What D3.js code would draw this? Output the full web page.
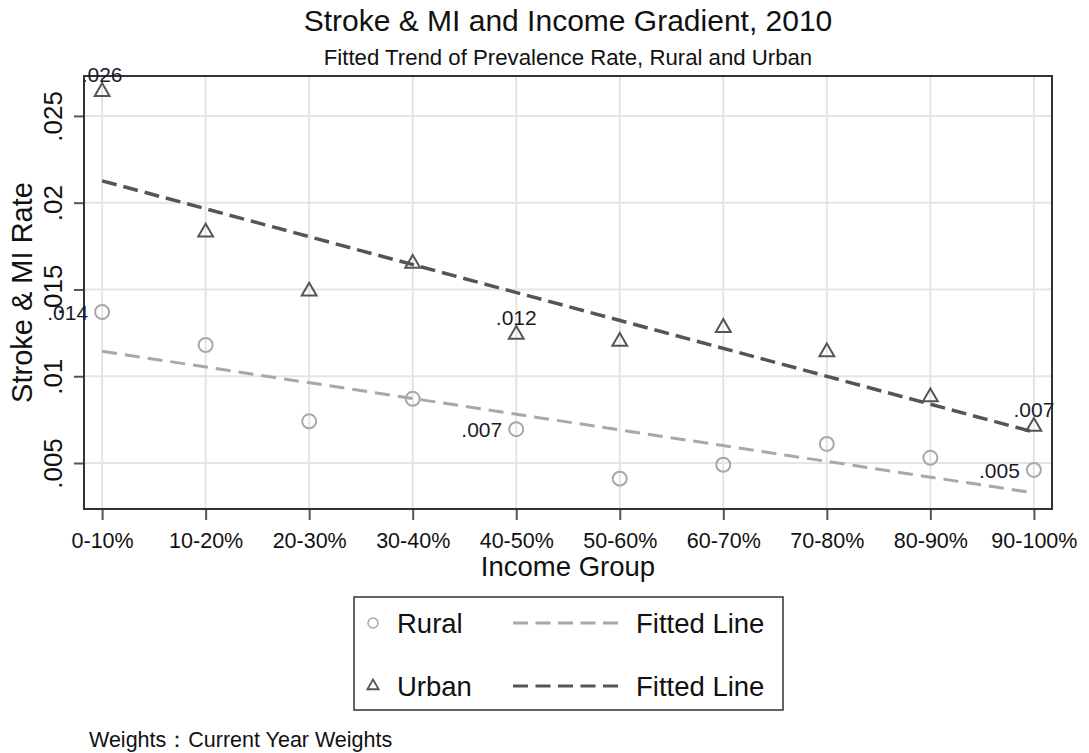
<!DOCTYPE html>
<html>
<head>
<meta charset="utf-8">
<script src="https://cdn.jsdelivr.net/npm/d3@7"></script>
<style>
  html, body { margin: 0; padding: 0; background: #fff; }
  svg { display: block; font-family: "Liberation Sans", Arial, sans-serif; }
</style>
</head>
<body>
<svg id="chart" width="1089" height="753"></svg>
<script>
// ---- data ----
const categories = ["0-10%", "10-20%", "20-30%", "30-40%", "40-50%", "50-60%", "60-70%", "70-80%", "80-90%", "90-100%"];
const urbanRate = [0.0264, 0.0183, 0.0149, 0.0165, 0.0124, 0.0120, 0.0128, 0.0114, 0.0088, 0.0071];
const ruralRate = [0.0137, 0.0118, 0.0074, 0.0087, 0.00695, 0.0041, 0.0049, 0.0061, 0.0053, 0.0046];
// fitted (linear) trend values at first and last income group
const urbanFit = [0.02126, 0.00678];
const ruralFit = [0.01144, 0.00328];
const labeledIdx = [0, 4, 9];
const yTicks = [0.005, 0.01, 0.015, 0.02, 0.025];
const yTickLabels = [".005", ".01", ".015", ".02", ".025"];
const yDomain = [0.00235, 0.0273];

const titleText = "Stroke & MI and Income Gradient, 2010";
const subtitleText = "Fitted Trend of Prevalence Rate, Rural and Urban";
const xTitle = "Income Group";
const yTitle = "Stroke & MI Rate";
const noteText = "Weights\uFF1ACurrent Year Weights";
const legendRows = [
  { name: "Rural", fit: "Fitted Line", kind: "rural" },
  { name: "Urban", fit: "Fitted Line", kind: "urban" }
];

// ---- layout ----
const plot = { left: 84, right: 1052, top: 76, bottom: 509 };
const urbanColor = "#555555";
const ruralColor = "#a8a8a8";
const gridColor = "#e4e4e4";

const svg = d3.select("#chart");
const x = d3.scalePoint().domain(categories).range([plot.left, plot.right]).padding(0.175);
const y = d3.scaleLinear().domain(yDomain).range([plot.bottom, plot.top]);

svg.append("rect").attr("x", 0).attr("y", 0).attr("width", 1089).attr("height", 753).attr("fill", "#fff");

// grid
const grid = svg.append("g");
grid.selectAll("line.h").data(yTicks).join("line")
  .attr("x1", plot.left).attr("x2", plot.right)
  .attr("y1", d => y(d)).attr("y2", d => y(d))
  .attr("stroke", gridColor).attr("stroke-width", 2);
grid.selectAll("line.v").data(categories).join("line")
  .attr("x1", d => x(d)).attr("x2", d => x(d))
  .attr("y1", plot.top).attr("y2", plot.bottom)
  .attr("stroke", gridColor).attr("stroke-width", 2);

// axes
const yAxis = d3.axisLeft(y).tickValues(yTicks).tickSize(10).tickFormat((d, i) => yTickLabels[i]);
const gy = svg.append("g").attr("transform", `translate(${plot.left},0)`).call(yAxis);
gy.select(".domain").remove();
gy.selectAll(".tick line").attr("stroke", "#555").attr("stroke-width", 2);
gy.selectAll(".tick text")
  .attr("x", null).attr("dy", null)
  .attr("transform", "translate(-22,0) rotate(-90)")
  .attr("text-anchor", "middle")
  .attr("fill", "#111")
  .style("font-size", "26px");

const xAxis = d3.axisBottom(x).tickSize(11).tickPadding(0);
const gx = svg.append("g").attr("transform", `translate(0,${plot.bottom})`).call(xAxis);
gx.select(".domain").remove();
gx.selectAll(".tick line").attr("stroke", "#555").attr("stroke-width", 2);
gx.selectAll(".tick text")
  .attr("y", 39).attr("dy", null)
  .attr("fill", "#111")
  .style("font-size", "21.5px");

// frame
svg.append("rect")
  .attr("x", plot.left).attr("y", plot.top)
  .attr("width", plot.right - plot.left).attr("height", plot.bottom - plot.top)
  .attr("fill", "none").attr("stroke", "#333").attr("stroke-width", 2);

// fitted lines
const lineGen = d3.line().x(d => d[0]).y(d => d[1]);
const first = categories[0], last = categories[categories.length - 1];
svg.append("path")
  .attr("d", lineGen([[x(first), y(ruralFit[0])], [x(last), y(ruralFit[1])]]))
  .attr("fill", "none").attr("stroke", ruralColor).attr("stroke-width", 3)
  .attr("stroke-dasharray", "15,8");
svg.append("path")
  .attr("d", lineGen([[x(first), y(urbanFit[0])], [x(last), y(urbanFit[1])]]))
  .attr("fill", "none").attr("stroke", urbanColor).attr("stroke-width", 3.5)
  .attr("stroke-dasharray", "15,7");

// markers
svg.append("g").selectAll("circle").data(ruralRate).join("circle")
  .attr("cx", (d, i) => x(categories[i])).attr("cy", d => y(d))
  .attr("r", 7).attr("fill", "none").attr("stroke", ruralColor).attr("stroke-width", 2);

const tri = d3.symbol().type(d3.symbolTriangle).size(95);
svg.append("g").selectAll("path").data(urbanRate).join("path")
  .attr("d", tri)
  .attr("transform", (d, i) => `translate(${x(categories[i])},${y(d)})`)
  .attr("fill", "none").attr("stroke", urbanColor).attr("stroke-width", 2);

// value labels
const fmt = v => d3.format(".3f")(v).replace(/^0/, "");
svg.append("g").selectAll("text").data(labeledIdx).join("text")
  .attr("x", i => x(categories[i]))
  .attr("y", i => y(urbanRate[i]) - 10)
  .attr("text-anchor", "middle")
  .attr("fill", "#1b1b2b")
  .style("font-size", "21px")
  .text(i => fmt(urbanRate[i]));
svg.append("g").selectAll("text").data(labeledIdx).join("text")
  .attr("x", i => x(categories[i]) - 14)
  .attr("y", i => y(ruralRate[i]))
  .attr("dy", "0.36em")
  .attr("text-anchor", "end")
  .attr("fill", "#1b1b2b")
  .style("font-size", "21px")
  .text(i => fmt(ruralRate[i]));

// titles
svg.append("text").attr("x", (plot.left + plot.right) / 2).attr("y", 31)
  .attr("text-anchor", "middle").attr("fill", "#111").style("font-size", "30px").text(titleText);
svg.append("text").attr("x", (plot.left + plot.right) / 2).attr("y", 65)
  .attr("text-anchor", "middle").attr("fill", "#111").style("font-size", "22.2px").text(subtitleText);
svg.append("text").attr("x", (plot.left + plot.right) / 2).attr("y", 576)
  .attr("text-anchor", "middle").attr("fill", "#111").style("font-size", "27.5px").text(xTitle);
svg.append("text")
  .attr("transform", `translate(32,${(plot.top + plot.bottom) / 2}) rotate(-90)`)
  .attr("text-anchor", "middle").attr("fill", "#111").style("font-size", "29px").text(yTitle);

// legend
const leg = svg.append("g");
leg.append("rect").attr("x", 354).attr("y", 597).attr("width", 429).attr("height", 113)
  .attr("fill", "#fff").attr("stroke", "#333").attr("stroke-width", 1.5);
const rowY = [623, 686];
legendRows.forEach((r, i) => {
  const cy = rowY[i];
  const col = r.kind === "rural" ? ruralColor : urbanColor;
  if (r.kind === "rural") {
    leg.append("circle").attr("cx", 373).attr("cy", cy).attr("r", 5)
      .attr("fill", "none").attr("stroke", col).attr("stroke-width", 1.5);
  } else {
    leg.append("path").attr("d", d3.symbol().type(d3.symbolTriangle).size(55))
      .attr("transform", `translate(373,${cy})`)
      .attr("fill", "none").attr("stroke", col).attr("stroke-width", 1.8);
  }
  leg.append("text").attr("x", 397).attr("y", cy).attr("dy", "0.36em")
    .attr("fill", "#111").style("font-size", "27.5px").text(r.name);
  leg.append("line").attr("x1", 513).attr("x2", 620).attr("y1", cy).attr("y2", cy)
    .attr("stroke", col).attr("stroke-width", 3).attr("stroke-dasharray", "15,7.5");
  leg.append("text").attr("x", 636).attr("y", cy).attr("dy", "0.36em")
    .attr("fill", "#111").style("font-size", "27.5px").text(r.fit);
});

// note
svg.append("text").attr("x", 89).attr("y", 747)
  .attr("fill", "#111").style("font-size", "21.5px").text(noteText);
</script>
</body>
</html>
